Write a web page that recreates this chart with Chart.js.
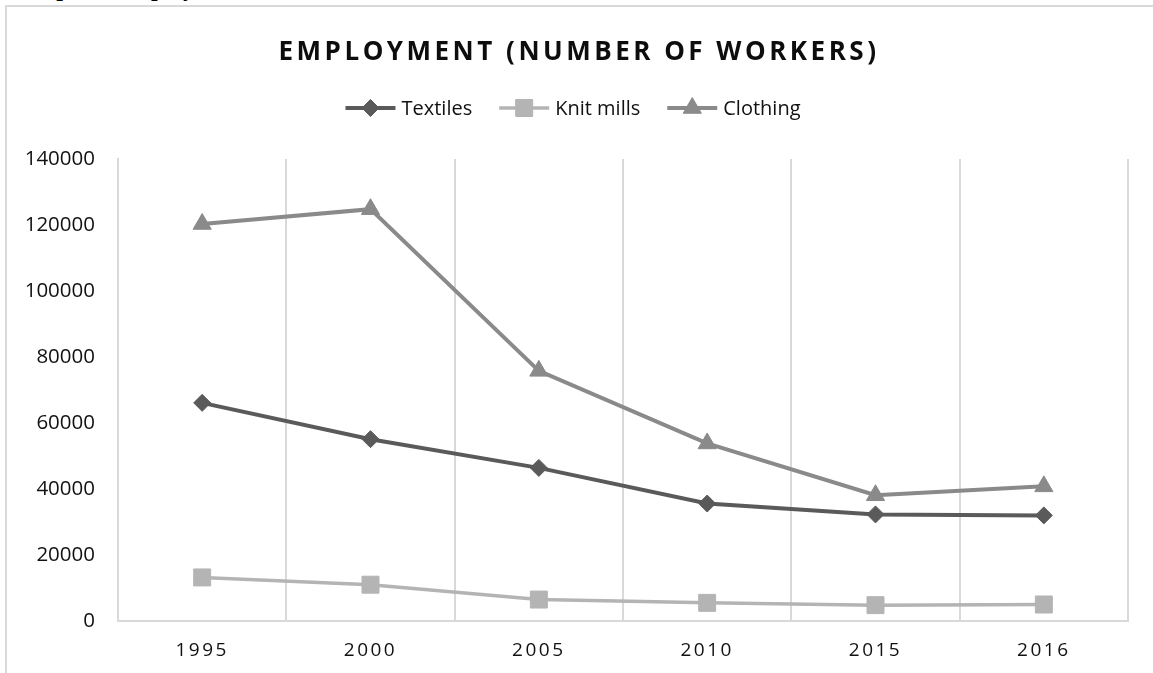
<!DOCTYPE html>
<html>
<head>
    <title>Employment (Number of Workers)</title>
    <script src="https://cdn.jsdelivr.net/npm/chart.js"></script>
    <style>
        body {
            margin: 0;
            background-color: #fff;
            width: 1153px;
            height: 673px;
            overflow: hidden;
            position: relative;
        }
        /* document heading sitting just above the chart box */
        .heading {
            position: absolute;
            left: 15px;
            top: -24px;
            font-family: 'Liberation Serif', serif;
            font-weight: bold;
            font-size: 24px;
            line-height: 24px;
            white-space: nowrap;
            color: #000;
        }
        .frame {
            position: absolute;
            left: 5px;
            top: 5px;
            width: 1170px;
            height: 700px;
            border: 2px solid #d9d9d9;
            box-sizing: border-box;
        }
        .chart-wrap {
            position: absolute;
            left: 0;
            top: 0;
            width: 1153px;
            height: 673px;
        }
    </style>
</head>
<body>
    <div class="heading">Graph 1: Employment</div>
    <div class="frame"></div>
    <div class="chart-wrap">
        <canvas id="employmentChart"></canvas>
    </div>

    <script>
        // Employment by industry, number of workers
        const years = ['1995', '2000', '2005', '2010', '2015', '2016'];
        const textiles = [66100, 55100, 46400, 35600, 32300, 32000];
        const knitMills = [13200, 11000, 6500, 5500, 4800, 5000];
        const clothing = [120300, 124800, 75800, 53800, 38100, 40800];
        const yTicks = [0, 20000, 40000, 60000, 80000, 100000, 120000, 140000];

        const chartTitle = 'EMPLOYMENT (NUMBER OF WORKERS)';

        // Title and legend drawn by hand so the legend keys can show line + marker
        // and the title can use letter spacing.
        const headerPlugin = {
            id: 'header',
            afterDatasetsDraw(chart) {
                // only the x tick labels are drawn after this point
                chart.ctx.letterSpacing = '2.5px';
            },
            afterDraw(chart) {
                const ctx = chart.ctx;
                ctx.letterSpacing = '0px';
                ctx.save();

                ctx.font = 'bold 26px "Open Sans"';
                ctx.letterSpacing = '3.5px';
                ctx.fillStyle = '#0d0d0d';
                ctx.textAlign = 'center';
                ctx.textBaseline = 'middle';
                ctx.fillText(chartTitle, 579, 53);

                ctx.letterSpacing = '0px';
                ctx.font = '20px "Open Sans"';
                ctx.textAlign = 'left';
                const lineLen = 50, textGap = 6, itemGap = 27, legendY = 108;
                const items = chart.data.datasets.map(ds => ({
                    ds: ds,
                    width: lineLen + textGap + ctx.measureText(ds.label).width
                }));
                const total = items.reduce((s, it) => s + it.width, 0) + itemGap * (items.length - 1);
                let x = 573 - total / 2;
                items.forEach(it => {
                    const ds = it.ds;
                    ctx.strokeStyle = ds.borderColor;
                    ctx.lineWidth = ds.borderWidth;
                    ctx.beginPath();
                    ctx.moveTo(x, legendY);
                    ctx.lineTo(x + lineLen, legendY);
                    ctx.stroke();
                    ctx.fillStyle = ds.pointBackgroundColor;
                    ctx.strokeStyle = ds.pointBorderColor;
                    ctx.lineWidth = 1;
                    Chart.helpers.drawPoint(ctx, {
                        pointStyle: ds.pointStyle,
                        radius: ds.pointRadius,
                        rotation: 0,
                        borderWidth: 1
                    }, x + lineLen / 2, legendY);
                    ctx.fillStyle = '#111';
                    ctx.fillText(ds.label, x + lineLen + textGap, legendY + 1);
                    x += it.width + itemGap;
                });
                ctx.restore();
            }
        };

        function series(label, data, color, style, radius, width) {
            return {
                label: label,
                data: data,
                borderColor: color,
                backgroundColor: color,
                borderWidth: width,
                pointStyle: style,
                pointRadius: radius,
                pointHoverRadius: radius,
                pointBackgroundColor: color,
                pointBorderColor: color,
                pointBorderWidth: 1,
                tension: 0
            };
        }

        const ctxEmployment = document.getElementById('employmentChart').getContext('2d');
        const employmentChart = new Chart(ctxEmployment, {
            type: 'line',
            data: {
                labels: years,
                datasets: [
                    series('Textiles', textiles, '#5a5a5a', 'rectRot', 8.5, 4),
                    series('Knit mills', knitMills, '#b4b4b4', 'rect', 12, 3.5),
                    series('Clothing', clothing, '#8a8a8a', 'triangle', 10.5, 4)
                ]
            },
            options: {
                responsive: true,
                maintainAspectRatio: false,
                animation: false,
                layout: {
                    padding: { left: 0, right: 25, top: 159, bottom: 0 }
                },
                plugins: {
                    legend: { display: false },
                    title: { display: false },
                    tooltip: { enabled: false }
                },
                scales: {
                    x: {
                        offset: true,
                        afterFit(scale) { scale.height = 52; },
                        grid: {
                            offset: true,
                            color: '#d9d9d9',
                            lineWidth: 2,
                            drawTicks: false
                        },
                        border: { color: '#d9d9d9', width: 2 },
                        ticks: {
                            z: 1,
                            padding: 18,
                            color: '#111',
                            font: { family: 'Open Sans', size: 19 }
                        }
                    },
                    y: {
                        min: yTicks[0],
                        max: yTicks[yTicks.length - 1],
                        afterFit(scale) { scale.width = 118; },
                        afterBuildTicks(scale) {
                            scale.ticks = yTicks.map(v => ({ value: v }));
                        },
                        grid: { display: false, drawTicks: false },
                        border: { color: '#d9d9d9', width: 2 },
                        ticks: {
                            padding: 23,
                            color: '#111',
                            font: { family: 'Open Sans', size: 20.5 },
                            callback: value => String(value)
                        }
                    }
                }
            },
            plugins: [headerPlugin]
        });
    </script>
</body>
</html>
